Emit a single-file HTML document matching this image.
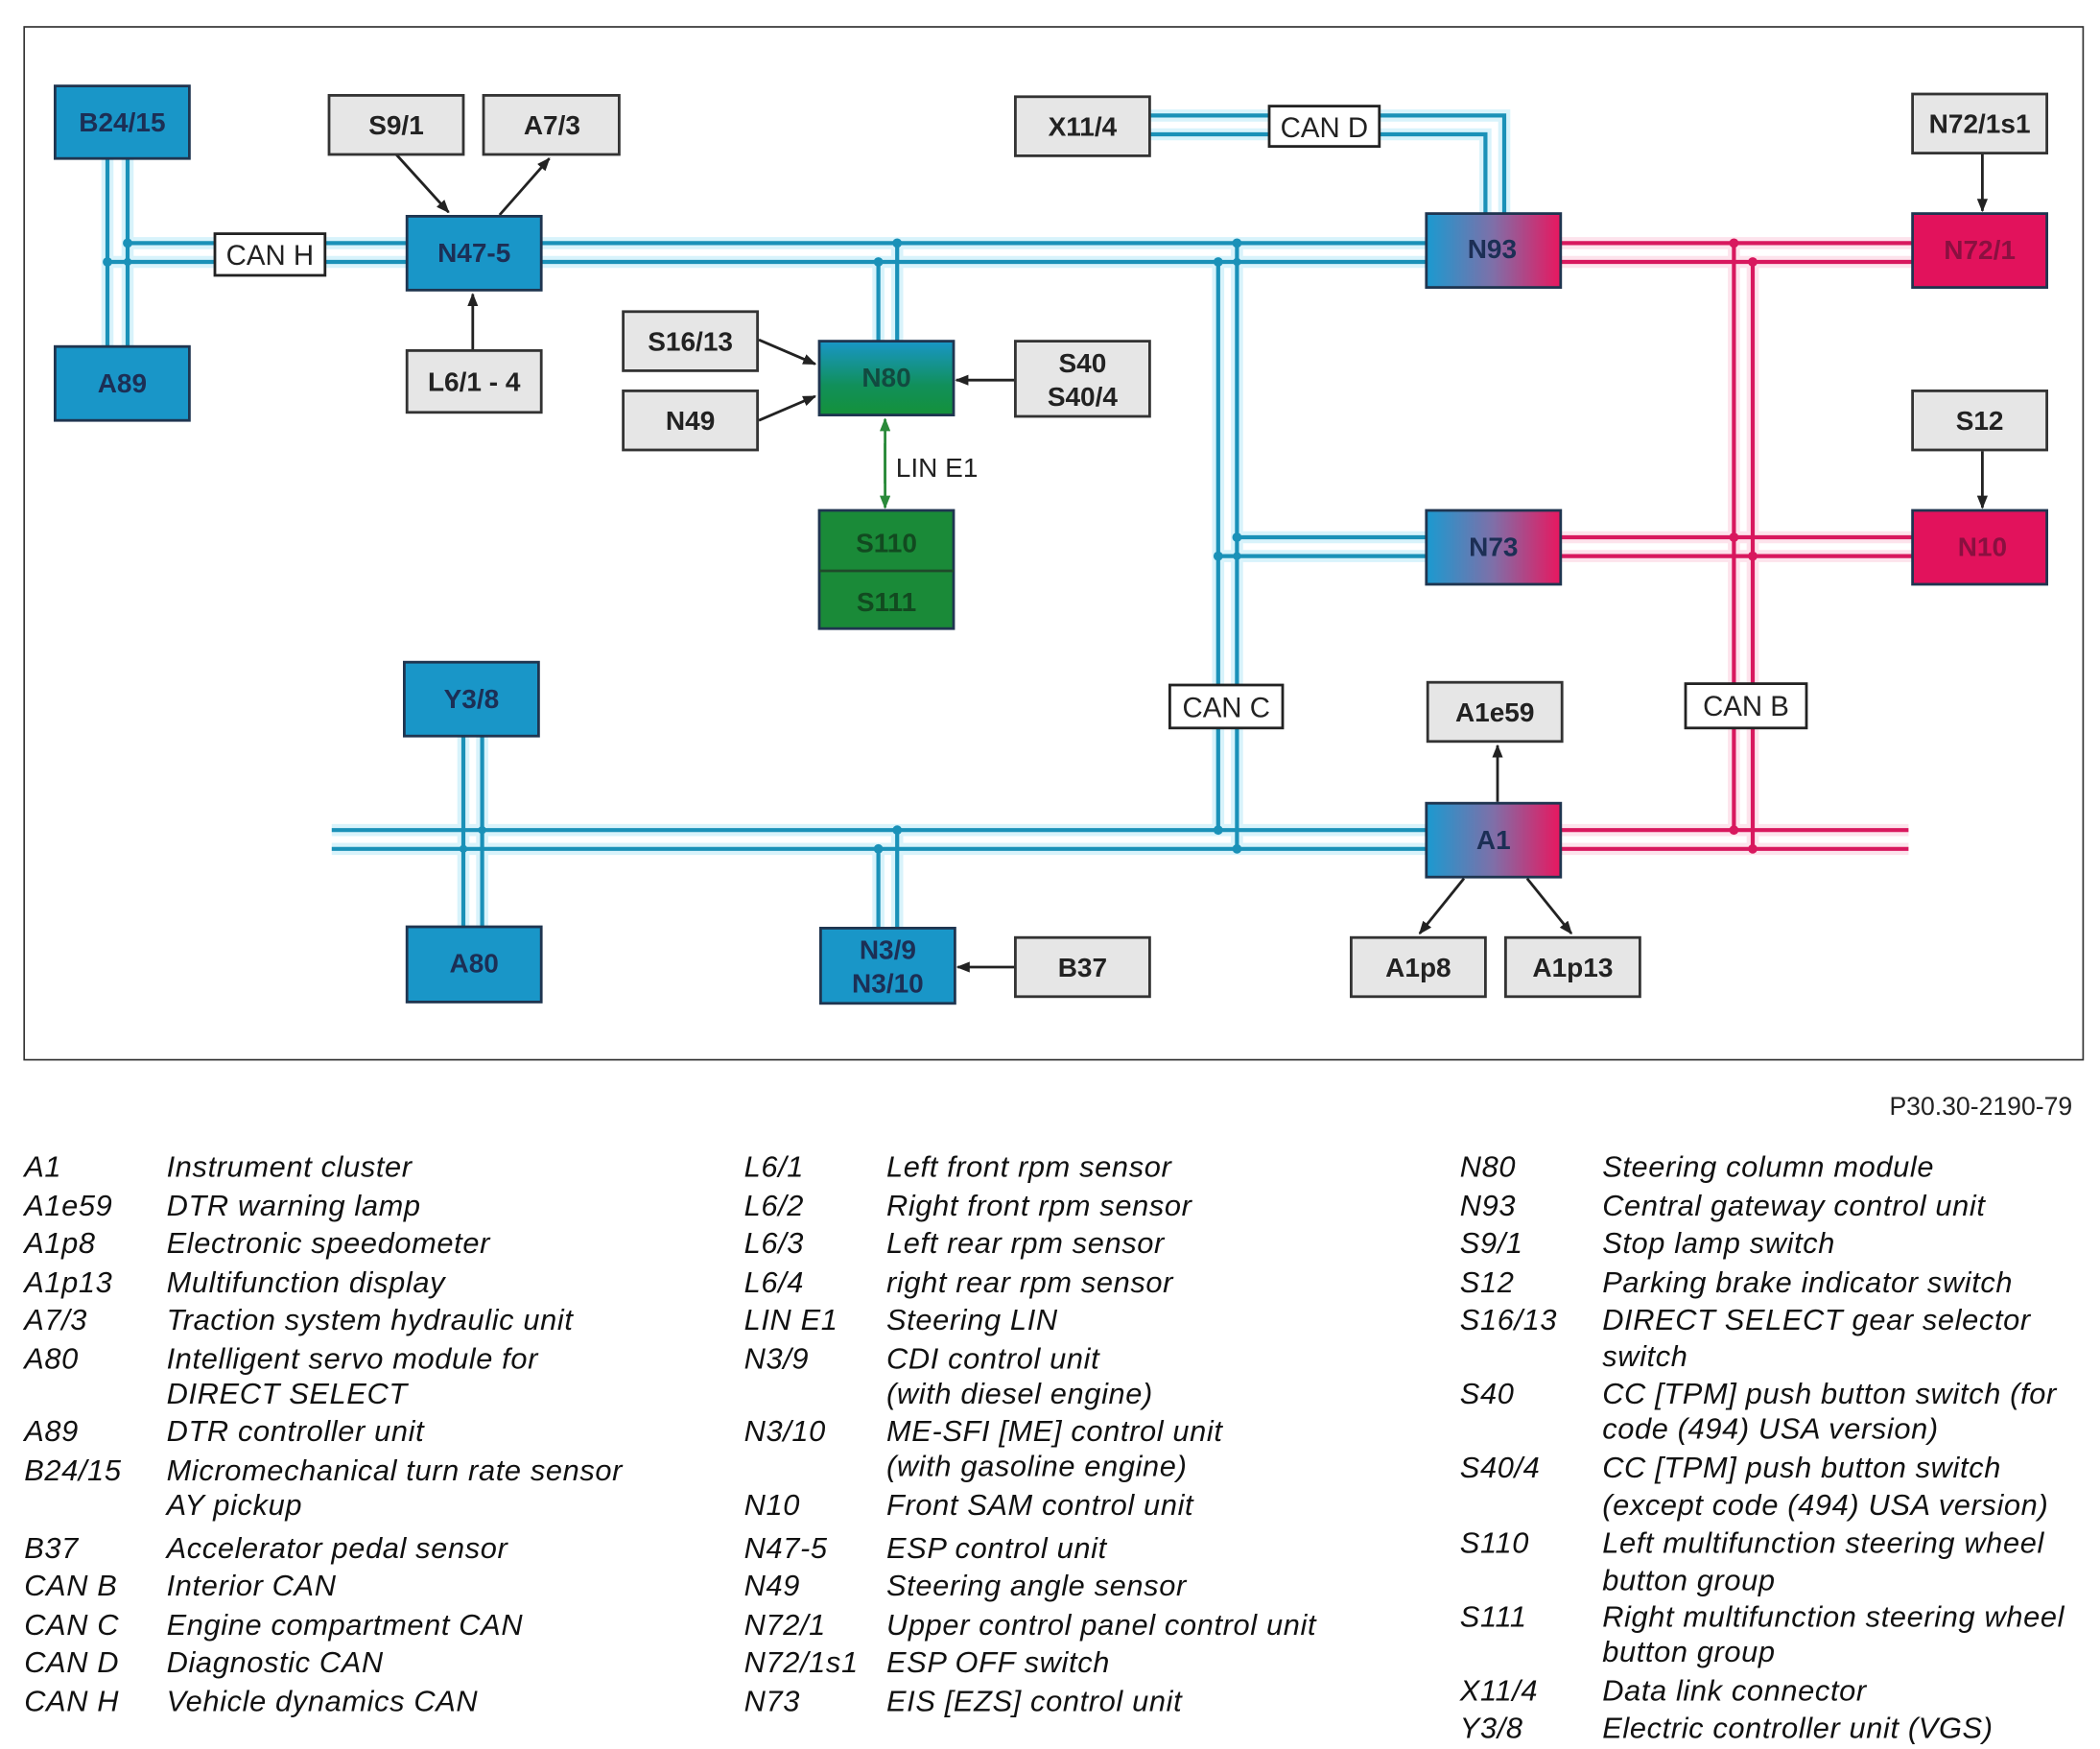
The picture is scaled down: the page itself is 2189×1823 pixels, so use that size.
<!DOCTYPE html>
<html><head><meta charset="utf-8"><style>
html,body{margin:0;padding:0;background:#fff;}
svg{display:block;}
.bx{font-family:"Liberation Sans",sans-serif;font-weight:bold;font-size:20px;text-anchor:middle;}
.lg{font-family:"Liberation Sans",sans-serif;font-style:italic;font-size:22px;letter-spacing:0.45px;fill:#111;}
.lb{font-family:"Liberation Sans",sans-serif;font-size:21px;fill:#222;text-anchor:middle;}
</style></head><body>
<svg width="2189" height="1823" viewBox="0 0 1563.57 1302.14" xmlns="http://www.w3.org/2000/svg">
<defs>
<linearGradient id="bp" x1="0" x2="1" y1="0" y2="0"><stop offset="0" stop-color="#1b9ad0"/><stop offset="0.5" stop-color="#7f6fa8"/><stop offset="1" stop-color="#e8175f"/></linearGradient>
<linearGradient id="bg" x1="0" x2="0" y1="0" y2="1"><stop offset="0" stop-color="#1996c8"/><stop offset="0.6" stop-color="#11905a"/><stop offset="1" stop-color="#14913a"/></linearGradient>
<marker id="ar" markerWidth="10" markerHeight="8" refX="9" refY="4" orient="auto" markerUnits="userSpaceOnUse"><path d="M0,0 L10,4 L0,8 Z" fill="#222"/></marker>
<marker id="ag" markerWidth="10" markerHeight="8" refX="9" refY="4" orient="auto" markerUnits="userSpaceOnUse"><path d="M0,0 L10,4 L0,8 Z" fill="#2a8a3a"/></marker>
</defs>
<rect x="18" y="20" width="1533" height="769" fill="#fff" stroke="#333" stroke-width="1.2"/>

<g fill="none" stroke="#d8f3fb" stroke-width="9">
<path d="M95,118 V258 M80,118 V258 M95,181 H1062 M80,195 H1062"/>
<path d="M856,86 H1120 V159 M856,100 H1106 V159"/>
<path d="M654,195 V254 M668,181 V254"/>
<path d="M907,195 V618 M921,181 V632 M921,400 H1062 M907,414 H1062"/>
<path d="M247,618 H1062 M247,632 H1062 M345,548 V690 M359,548 V690 M654,632 V691 M668,618 V691"/>
</g>
<g fill="none" stroke="#1a91b8" stroke-width="3">
<path d="M95,118 V258 M80,118 V258 M95,181 H1062 M80,195 H1062"/>
<path d="M856,86 H1120 V159 M856,100 H1106 V159"/>
<path d="M654,195 V254 M668,181 V254"/>
<path d="M907,195 V618 M921,181 V632 M921,400 H1062 M907,414 H1062"/>
<path d="M247,618 H1062 M247,632 H1062 M345,548 V690 M359,548 V690 M654,632 V691 M668,618 V691"/>
</g>
<g fill="#1a91b8">
<circle cx="95" cy="181" r="3.5"/><circle cx="80" cy="195" r="3.5"/><circle cx="95" cy="195" r="3"/>
<circle cx="668" cy="181" r="3.5"/><circle cx="654" cy="195" r="3.5"/>
<circle cx="921" cy="181" r="3.5"/><circle cx="907" cy="195" r="3.5"/><circle cx="921" cy="195" r="3"/>
<circle cx="921" cy="400" r="3.5"/><circle cx="907" cy="414" r="3.5"/><circle cx="921" cy="414" r="3"/>
<circle cx="907" cy="618" r="3.5"/><circle cx="921" cy="632" r="3.5"/>
<circle cx="359" cy="618" r="3"/><circle cx="345" cy="632" r="3"/>
<circle cx="668" cy="618" r="3.5"/><circle cx="654" cy="632" r="3.5"/>
</g>

<g fill="none" stroke="#fde3ec" stroke-width="9">
<path d="M1162,181 H1424 M1162,195 H1424 M1162,400 H1424 M1162,414 H1424 M1162,618 H1421 M1162,632 H1421 M1291,181 V618 M1305,195 V632"/>
</g>
<g fill="none" stroke="#d8185e" stroke-width="3">
<path d="M1162,181 H1424 M1162,195 H1424 M1162,400 H1424 M1162,414 H1424 M1162,618 H1421 M1162,632 H1421 M1291,181 V618 M1305,195 V632"/>
</g>
<g fill="#d8185e">
<circle cx="1291" cy="181" r="3.5"/><circle cx="1305" cy="195" r="3.5"/>
<circle cx="1291" cy="400" r="3.5"/><circle cx="1305" cy="414" r="3.5"/>
<circle cx="1291" cy="618" r="3.5"/><circle cx="1305" cy="632" r="3.5"/>
</g>

<g fill="#fff" stroke="#222" stroke-width="2">
<rect x="160" y="174" width="82" height="31"/>
<rect x="945" y="79" width="82" height="30"/>
<rect x="871" y="510" width="84" height="32"/>
<rect x="1255" y="509" width="90" height="33"/>
</g>
<text class="lb" x="201" y="197">CAN H</text>
<text class="lb" x="986" y="102">CAN D</text>
<text class="lb" x="913" y="534">CAN C</text>
<text class="lb" x="1300" y="533">CAN B</text>

<g stroke="#222" stroke-width="2" fill="none">
<line x1="295" y1="115" x2="334" y2="158" marker-end="url(#ar)"/>
<line x1="372" y1="160" x2="409" y2="118" marker-end="url(#ar)"/>
<line x1="352" y1="261" x2="352" y2="219" marker-end="url(#ar)"/>
<line x1="565" y1="253" x2="607" y2="271" marker-end="url(#ar)"/>
<line x1="565" y1="313" x2="607" y2="295" marker-end="url(#ar)"/>
<line x1="756" y1="283" x2="712" y2="283" marker-end="url(#ar)"/>
<line x1="756" y1="720" x2="713" y2="720" marker-end="url(#ar)"/>
<line x1="1115" y1="597" x2="1115" y2="555" marker-end="url(#ar)"/>
<line x1="1090" y1="654" x2="1057" y2="695" marker-end="url(#ar)"/>
<line x1="1137" y1="654" x2="1170" y2="695" marker-end="url(#ar)"/>
<line x1="1476" y1="114" x2="1476" y2="157" marker-end="url(#ar)"/>
<line x1="1476" y1="336" x2="1476" y2="378" marker-end="url(#ar)"/>
</g>
<g stroke="#2a8a3a" stroke-width="2">
<line x1="659" y1="330" x2="659" y2="378" marker-end="url(#ag)"/>
<line x1="659" y1="360" x2="659" y2="312" marker-end="url(#ag)"/>
</g>
<text x="667" y="355" font-family="Liberation Sans,sans-serif" font-size="20" fill="#222">LIN E1</text>

<g fill="#e6e6e6" stroke="#333" stroke-width="2">
<rect x="245" y="71" width="100" height="44"/>
<rect x="360" y="71" width="101" height="44"/>
<rect x="303" y="261" width="100" height="46"/>
<rect x="464" y="232" width="100" height="44"/>
<rect x="464" y="291" width="100" height="44"/>
<rect x="756" y="254" width="100" height="56"/>
<rect x="756" y="72" width="100" height="44"/>
<rect x="756" y="698" width="100" height="44"/>
<rect x="1063" y="508" width="100" height="44"/>
<rect x="1006" y="698" width="100" height="44"/>
<rect x="1121" y="698" width="100" height="44"/>
<rect x="1424" y="70" width="100" height="44"/>
<rect x="1424" y="291" width="100" height="44"/>
</g>
<g class="bx" fill="#222">
<text x="295" y="100">S9/1</text>
<text x="411" y="100">A7/3</text>
<text x="353" y="291">L6/1 - 4</text>
<text x="514" y="261">S16/13</text>
<text x="514" y="320">N49</text>
<text x="806" y="277">S40</text>
<text x="806" y="302">S40/4</text>
<text x="806" y="101">X11/4</text>
<text x="806" y="727">B37</text>
<text x="1113" y="537">A1e59</text>
<text x="1056" y="727">A1p8</text>
<text x="1171" y="727">A1p13</text>
<text x="1474" y="99">N72/1s1</text>
<text x="1474" y="320">S12</text>
</g>

<g stroke="#1f3550" stroke-width="2">
<rect x="41" y="64" width="100" height="54" fill="#1996c8"/>
<rect x="41" y="258" width="100" height="55" fill="#1996c8"/>
<rect x="303" y="161" width="100" height="55" fill="#1996c8"/>
<rect x="301" y="493" width="100" height="55" fill="#1996c8"/>
<rect x="303" y="690" width="100" height="56" fill="#1996c8"/>
<rect x="611" y="691" width="100" height="56" fill="#1996c8"/>
<rect x="610" y="254" width="100" height="55" fill="url(#bg)"/>
<rect x="610" y="380" width="100" height="88" fill="#1a8a38"/>
<rect x="1062" y="159" width="100" height="55" fill="url(#bp)"/>
<rect x="1062" y="380" width="100" height="55" fill="url(#bp)"/>
<rect x="1062" y="598" width="100" height="55" fill="url(#bp)"/>
<rect x="1424" y="159" width="100" height="55" fill="#e2125c"/>
<rect x="1424" y="380" width="100" height="55" fill="#e2125c"/>
</g>
<line x1="610" y1="425" x2="710" y2="425" stroke="#1f4a2a" stroke-width="2"/>
<g class="bx" fill="#1c2f55">
<text x="91" y="98">B24/15</text>
<text x="91" y="292">A89</text>
<text x="353" y="195">N47-5</text>
<text x="351" y="527">Y3/8</text>
<text x="353" y="724">A80</text>
<text x="661" y="714">N3/9</text>
<text x="661" y="739">N3/10</text>
<text x="660" y="288" fill="#124a40">N80</text>
<text x="660" y="411" fill="#124a20">S110</text>
<text x="660" y="455" fill="#124a20">S111</text>
<text x="1111" y="192">N93</text>
<text x="1112" y="414">N73</text>
<text x="1112" y="632">A1</text>
<text x="1474" y="193" fill="#8a1040">N72/1</text>
<text x="1476" y="414" fill="#8a1040">N10</text>
</g>

<text x="1543" y="830" font-family="Liberation Sans,sans-serif" font-size="19" fill="#222" text-anchor="end">P30.30-2190-79</text>

<g class="lg">
<text x="18" y="876">A1</text><text x="124" y="876">Instrument cluster</text>
<text x="18" y="905">A1e59</text><text x="124" y="905">DTR warning lamp</text>
<text x="18" y="933">A1p8</text><text x="124" y="933">Electronic speedometer</text>
<text x="18" y="962">A1p13</text><text x="124" y="962">Multifunction display</text>
<text x="18" y="990">A7/3</text><text x="124" y="990">Traction system hydraulic unit</text>
<text x="18" y="1019">A80</text><text x="124" y="1019">Intelligent servo module for</text>
<text x="124" y="1045">DIRECT SELECT</text>
<text x="18" y="1073">A89</text><text x="124" y="1073">DTR controller unit</text>
<text x="18" y="1102">B24/15</text><text x="124" y="1102">Micromechanical turn rate sensor</text>
<text x="124" y="1128">AY pickup</text>
<text x="18" y="1160">B37</text><text x="124" y="1160">Accelerator pedal sensor</text>
<text x="18" y="1188">CAN B</text><text x="124" y="1188">Interior CAN</text>
<text x="18" y="1217">CAN C</text><text x="124" y="1217">Engine compartment CAN</text>
<text x="18" y="1245">CAN D</text><text x="124" y="1245">Diagnostic CAN</text>
<text x="18" y="1274">CAN H</text><text x="124" y="1274">Vehicle dynamics CAN</text>

<text x="554" y="876">L6/1</text><text x="660" y="876">Left front rpm sensor</text>
<text x="554" y="905">L6/2</text><text x="660" y="905">Right front rpm sensor</text>
<text x="554" y="933">L6/3</text><text x="660" y="933">Left rear rpm sensor</text>
<text x="554" y="962">L6/4</text><text x="660" y="962">right rear rpm sensor</text>
<text x="554" y="990">LIN E1</text><text x="660" y="990">Steering LIN</text>
<text x="554" y="1019">N3/9</text><text x="660" y="1019">CDI control unit</text>
<text x="660" y="1045">(with diesel engine)</text>
<text x="554" y="1073">N3/10</text><text x="660" y="1073">ME-SFI [ME] control unit</text>
<text x="660" y="1099">(with gasoline engine)</text>
<text x="554" y="1128">N10</text><text x="660" y="1128">Front SAM control unit</text>
<text x="554" y="1160">N47-5</text><text x="660" y="1160">ESP control unit</text>
<text x="554" y="1188">N49</text><text x="660" y="1188">Steering angle sensor</text>
<text x="554" y="1217">N72/1</text><text x="660" y="1217">Upper control panel control unit</text>
<text x="554" y="1245">N72/1s1</text><text x="660" y="1245">ESP OFF switch</text>
<text x="554" y="1274">N73</text><text x="660" y="1274">EIS [EZS] control unit</text>

<text x="1087" y="876">N80</text><text x="1193" y="876">Steering column module</text>
<text x="1087" y="905">N93</text><text x="1193" y="905">Central gateway control unit</text>
<text x="1087" y="933">S9/1</text><text x="1193" y="933">Stop lamp switch</text>
<text x="1087" y="962">S12</text><text x="1193" y="962">Parking brake indicator switch</text>
<text x="1087" y="990">S16/13</text><text x="1193" y="990">DIRECT SELECT gear selector</text>
<text x="1193" y="1017">switch</text>
<text x="1087" y="1045">S40</text><text x="1193" y="1045">CC [TPM] push button switch (for</text>
<text x="1193" y="1071">code (494) USA version)</text>
<text x="1087" y="1100">S40/4</text><text x="1193" y="1100">CC [TPM] push button switch</text>
<text x="1193" y="1128">(except code (494) USA version)</text>
<text x="1087" y="1156">S110</text><text x="1193" y="1156">Left multifunction steering wheel</text>
<text x="1193" y="1184">button group</text>
<text x="1087" y="1211">S111</text><text x="1193" y="1211">Right multifunction steering wheel</text>
<text x="1193" y="1237">button group</text>
<text x="1087" y="1266">X11/4</text><text x="1193" y="1266">Data link connector</text>
<text x="1087" y="1294">Y3/8</text><text x="1193" y="1294">Electric controller unit (VGS)</text>
</g>
</svg>
</body></html>
